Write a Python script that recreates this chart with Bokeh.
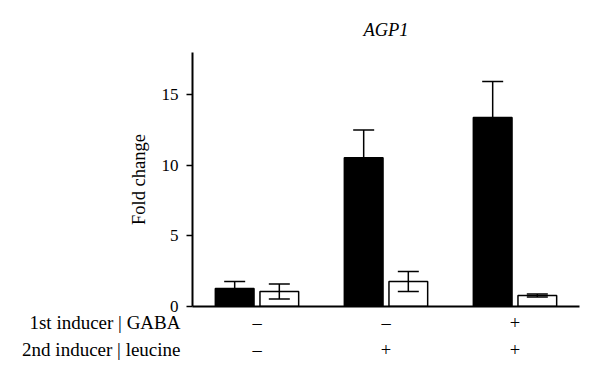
from bokeh.plotting import figure
from bokeh.layouts import column
from bokeh.models import (ColumnDataSource, Range1d, FixedTicker, Whisker, TeeHead)
from bokeh.core.properties import value
from bokeh.embed import file_html
from bokeh.resources import INLINE

# ---- data ----
groups = [1, 2, 3]
black_vals = [1.27, 10.55, 13.4]
black_err = [0.5, 1.95, 2.55]
white_vals = [1.07, 1.77, 0.78]
white_err = [0.53, 0.71, 0.1]
gaba_signs = ["–", "–", "+"]
leucine_signs = ["–", "+", "+"]
y_ticks = [0, 5, 10, 15]
title_text = "AGP1"
y_label = "Fold change"
row_labels = ["1st inducer | GABA", "2nd inducer | leucine"]

FONT = "Liberation Serif"
FS = "18.5px"
offset = 0.173
bar_w = 0.30

p = figure(frame_width=387, frame_height=254, output_backend="svg", toolbar_location=None,
           x_range=Range1d(0.5, 3.5), y_range=Range1d(0, 18),
           min_border_left=192, min_border_right=5, min_border_top=52,
           min_border_bottom=12)
p.outline_line_color = None
p.grid.visible = False

p.title.text = title_text
p.title.align = "center"
p.title.text_font = FONT
p.title.text_font_size = FS
p.title.text_font_style = "italic"
p.title.text_color = "black"
p.title.standoff = 25

bx = [g - offset for g in groups]
wx = [g + offset for g in groups]
src_b = ColumnDataSource(dict(x=bx, top=black_vals,
                              upper=[v + e for v, e in zip(black_vals, black_err)],
                              lower=[v - e for v, e in zip(black_vals, black_err)]))
src_w = ColumnDataSource(dict(x=wx, top=white_vals,
                              upper=[v + e for v, e in zip(white_vals, white_err)],
                              lower=[v - e for v, e in zip(white_vals, white_err)]))

p.vbar(x="x", top="top", bottom=0, width=bar_w, source=src_b,
       fill_color="black", line_color="black", line_width=1.5)
p.vbar(x="x", top="top", bottom=0, width=bar_w, source=src_w,
       fill_color="white", line_color="black", line_width=1.5)

for src in (src_b, src_w):
    w = Whisker(source=src, base="x", upper="upper", lower="lower",
                line_color="black", line_width=1.5, level="overlay",
                upper_head=TeeHead(size=21, line_color="black", line_width=1.5),
                lower_head=TeeHead(size=21, line_color="black", line_width=1.5))
    p.add_layout(w)

# axes
p.yaxis.ticker = FixedTicker(ticks=y_ticks)
p.yaxis.minor_tick_line_color = None
p.yaxis.major_tick_in = 0
p.yaxis.major_tick_out = 6
p.yaxis.major_tick_line_width = 1.5
p.yaxis.axis_line_width = 2
p.yaxis.major_label_text_font = FONT
p.yaxis.major_label_text_font_size = "17px"
p.yaxis.major_label_text_color = "black"
p.yaxis.major_label_standoff = 8
p.yaxis.axis_label = y_label
p.yaxis.axis_label_text_font = FONT
p.yaxis.axis_label_text_font_size = FS
p.yaxis.axis_label_text_font_style = "normal"
p.yaxis.axis_label_text_color = "black"
p.yaxis.axis_label_standoff = 10

p.xaxis.ticker = FixedTicker(ticks=[])
p.xaxis.minor_tick_line_color = None
p.xaxis.major_tick_line_color = None
p.xaxis.major_label_text_font_size = "0px"
p.xaxis.major_label_standoff = 0
p.xaxis.axis_line_width = 2

# ---- lower table figure: same frame geometry, y in pixels from its top ----
overlap = 10
q_h = 55
row_y = [14, 41]
q = figure(frame_width=387, frame_height=q_h, output_backend="svg", toolbar_location=None,
           x_range=p.x_range, y_range=Range1d(q_h, 0),
           min_border_left=192, min_border_right=5, min_border_top=0, min_border_bottom=0)
q.margin = (-overlap, 0, 0, 0)
q.background_fill_color = None
q.border_fill_color = None
q.grid.visible = False
q.outline_line_color = None
q.xaxis.visible = False
q.yaxis.ticker = FixedTicker(ticks=row_y)
q.yaxis.major_label_overrides = {row_y[0]: row_labels[0], row_y[1]: row_labels[1]}
q.yaxis.axis_line_color = None
q.yaxis.major_tick_line_color = None
q.yaxis.minor_tick_line_color = None
q.yaxis.major_tick_out = 0
q.yaxis.major_tick_in = 0
q.yaxis.major_label_standoff = 12
q.yaxis.major_label_text_font = FONT
q.yaxis.major_label_text_font_size = "19px"
q.yaxis.major_label_text_color = "black"

sign_src = ColumnDataSource(dict(
    x=groups * 2,
    y=[row_y[0]] * 3 + [row_y[1]] * 3,
    t=gaba_signs + leucine_signs))
q.text(x="x", y="y", text="t", source=sign_src, text_font=value(FONT),
       text_font_size=FS, text_align="center", text_baseline="middle", text_color="black")

layout = column(p, q, spacing=0)
open("out.html", "w").write(file_html(layout, INLINE))
